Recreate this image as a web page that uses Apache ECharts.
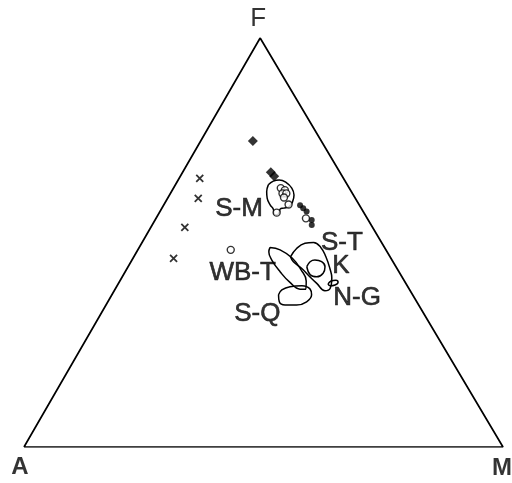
<!DOCTYPE html>
<html><head><meta charset="utf-8">
<script src="https://cdn.jsdelivr.net/npm/echarts@6/dist/echarts.min.js"></script>
<style>html,body{margin:0;padding:0;background:#fff}#c{width:512px;height:483px}</style>
</head><body><div id="c"></div>
<script>
// Ternary data as [F, M] percentages (A = 100 - F - M)
const vertexNames = ['A', 'F', 'M'];
const vertexFM = [[0, 0], [100, 0], [0, 100]];

const diamondsFM = [[74.8, 10.9], [67.2, 18.4], [66.2, 19.6]];
const dotsFM = [[59.1, 28.5], [58.4, 29.5], [57.6, 30.6], [55.5, 32.7], [54.3, 33.3]];
const circlesFM = [[63.3, 22.4], [62.8, 23.5], [62.0, 23.4], [62.0, 24.2], [61.0, 24.2],
                   [59.3, 26.0], [57.3, 24.5], [55.9, 31.3], [48.2, 19.4]];
const crossesFM = [[65.7, 4.3], [60.8, 6.4], [53.7, 7.1], [46.1, 8.5]];

const fieldSM = [[64.1,19.4],[65.0,20.0],[65.3,21.1],[64.7,22.8],[63.3,24.7],[61.6,26.0],[60.0,26.5],
                 [58.8,26.4],[58.4,25.4],[58.2,24.8],[57.4,25.0],[56.7,24.8],[57.1,24.0],[58.0,23.5],
                 [59.2,22.2],[60.8,20.8],[62.4,19.9]];
const fieldWBT = [[48.8,27.3],[48.2,29.7],[46.2,33.2],[43.3,36.5],[40.6,38.9],[38.6,39.8],[38.6,38.6],
                  [40.3,35.6],[42.8,32.4],[45.7,29.2],[47.7,27.6]];
const fieldST = [[46.5,32.7],[48.6,33.0],[49.8,34.1],[50.0,35.8],[48.8,37.9],[46.5,40.1],[43.7,42.3],
                 [41.3,43.9],[38.8,44.8],[38.2,44.0],[40.0,41.4],[41.6,39.2],[43.7,36.4],[45.3,33.9]];
const fieldK = [[44.1,37.3],[45.3,37.4],[45.7,38.2],[45.3,39.8],[44.1,41.1],[42.5,41.5],[41.6,40.6],[42.1,39.0]];
const fieldNG = [[39.9,43.8],[40.6,44.1],[40.8,45.0],[40.3,45.7],[39.6,45.4],[39.4,44.5]];
const fieldSQ = [[37.2,34.8],[38.4,34.9],[39.2,36.2],[39.4,38.6],[38.6,40.7],[37.2,41.7],[35.5,41.5],
                 [34.7,39.8],[34.7,37.4],[35.5,35.8]];

const fieldLabels = ['S-M', 'S-T', 'K', 'N-G', 'WB-T', 'S-Q'];
const fieldLabelFM = [[58.2, 16.2], [50.0, 41.7], [44.3, 44.3], [36.4, 51.6], [42.7, 24.6], [32.5, 32.7]];

// ---- rendering ----
const SKEW = 0.493; // horizontal position of apex along the base
function toXY(p) { return [p[1] + SKEW * p[0], p[0]]; }
function closed(arr) { return arr.concat([arr[0]]).map(toXY); }
const FONT = '"Liberation Sans", Arial, sans-serif';

const fields = [fieldSM, fieldWBT, fieldST, fieldK, fieldNG, fieldSQ];
const fieldSeries = fields.map(f => ({
  type: 'line', data: closed(f), smooth: 0.45, showSymbol: false, silent: true,
  lineStyle: { color: '#000', width: 1.5 }, z: 2
}));

const vertexOffsets = { A: [-4, 20], F: [-2, -19], M: [-1, 21] };
const vertexFont = { A: 24, F: 26, M: 24 };

const option = {
  animation: false,
  backgroundColor: '#fff',
  grid: { left: 24, right: 9, top: 38, bottom: 36 },
  xAxis: { type: 'value', min: 0, max: 100, show: false },
  yAxis: { type: 'value', min: 0, max: 100, show: false },
  series: [
    { type: 'line', data: closed(vertexFM), showSymbol: false, silent: true,
      lineStyle: { color: '#000', width: 1.7 }, z: 1 },
    ...fieldSeries,
    { type: 'scatter', data: vertexFM.map((p, i) => ({ value: toXY(p), name: vertexNames[i] })),
      symbolSize: 0, z: 5,
      label: { show: true, position: 'inside', formatter: d => d.name, color: '#000', fontFamily: FONT },
      itemStyle: { color: 'transparent' } },
    { type: 'scatter', data: diamondsFM.map(toXY), symbol: 'diamond', symbolSize: 10,
      itemStyle: { color: '#000' }, z: 4 },
    { type: 'scatter', data: dotsFM.map(toXY), symbol: 'circle', symbolSize: 6,
      itemStyle: { color: '#000' }, z: 4 },
    { type: 'scatter', data: circlesFM.map(toXY), symbol: 'circle', symbolSize: 7,
      itemStyle: { color: '#fff', borderColor: '#000', borderWidth: 1.4 }, z: 4 },
    { type: 'scatter', data: crossesFM.map(toXY), symbol: 'path://M0,0L10,10M10,0L0,10', symbolSize: 7,
      itemStyle: { color: 'none', borderColor: '#000', borderWidth: 1.8 }, z: 4 },
    { type: 'scatter', data: fieldLabelFM.map((p, i) => ({ value: toXY(p), name: fieldLabels[i] })),
      symbolSize: 0, z: 6, itemStyle: { color: 'transparent' },
      label: { show: true, position: 'inside', formatter: d => d.name, color: '#000',
        fontFamily: FONT, fontSize: 26, align: 'center', verticalAlign: 'middle',
        textBorderColor: '#000', textBorderWidth: 0.6 } }
  ]
};
// per-vertex label styling
option.series[fields.length + 1].data.forEach(d => {
  d.label = { offset: vertexOffsets[d.name], fontSize: vertexFont[d.name],
    align: 'center', verticalAlign: 'middle', fontFamily: FONT,
    fontWeight: d.name === 'F' ? 'normal' : 'bold' };
});
const chart = echarts.init(document.getElementById('c'), null, { renderer: 'canvas' });
chart.setOption(option);
</script></body></html>
